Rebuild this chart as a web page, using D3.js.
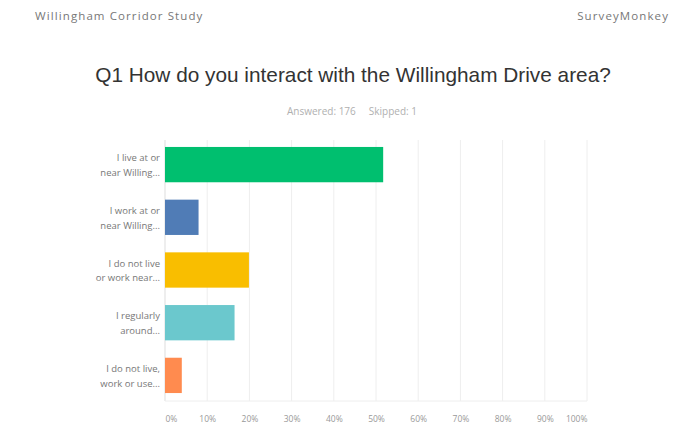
<!DOCTYPE html>
<html><head><meta charset="utf-8">
<script src="https://cdn.jsdelivr.net/npm/d3@7"></script>
<style>body{margin:0;background:#fff;}svg{display:block;font-family:"Open Sans","Liberation Sans",sans-serif;}</style>
</head><body><svg id="c" width="673" height="428"></svg>
<script>
const categories = [
  ["I live at or", "near Willing..."],
  ["I work at or", "near Willing..."],
  ["I do not live", "or work near..."],
  ["I regularly", "around..."],
  ["I do not live,", "work or use..."]
];
const values = [51.70, 7.95, 19.89, 16.48, 3.98];
const colors = ["#00bf6f", "#507cb6", "#f9be00", "#6bc8cd", "#ff8b4f"];
const tickValues = [0,10,20,30,40,50,60,70,80,90,100];
const tickLabels = ["0%","10%","20%","30%","40%","50%","60%","70%","80%","90%","100%"];

const svg = d3.select("#c");
const x = d3.scaleLinear().domain([0,100]).range([165, 587]);
const y = d3.scaleBand().domain(d3.range(categories.length)).range([138, 402]).paddingInner(0.33).paddingOuter(0.17);

svg.append("text").attr("x",35).attr("y",20).attr("font-size",11.5).attr("letter-spacing",1.1).attr("fill","#777").text("Willingham Corridor Study");
svg.append("text").attr("x",669).attr("y",20).attr("text-anchor","end").attr("font-size",11.5).attr("letter-spacing",1.1).attr("fill","#777").text("SurveyMonkey");
svg.append("text").attr("x",353).attr("y",82).attr("text-anchor","middle").attr("font-size",20.8).attr("fill","#333")
  .attr("font-family","Liberation Sans, Arial, sans-serif").text("Q1 How do you interact with the Willingham Drive area?");
svg.append("text").attr("x",352).attr("y",115).attr("text-anchor","middle").attr("font-size",10).attr("fill","#b0b0b0")
  .attr("xml:space","preserve").text("Answered: 176     Skipped: 1");

// gridlines
svg.append("g").selectAll("line").data(tickValues).join("line")
  .attr("x1",d=>x(d)).attr("x2",d=>x(d)).attr("y1",140).attr("y2",401)
  .attr("stroke",d=>d===0?"#ddd":"#eeeeee").attr("stroke-width",1);
svg.append("line").attr("x1",x(0)).attr("x2",x(100)).attr("y1",401).attr("y2",401).attr("stroke","#eee");

// bars
svg.append("g").selectAll("rect").data(values).join("rect")
  .attr("x",x(0)).attr("y",(d,i)=>y(i)).attr("width",d=>x(d)-x(0)).attr("height",y.bandwidth())
  .attr("fill",(d,i)=>colors[i]);

// category labels
const lab = svg.append("g").selectAll("text").data(categories).join("text")
  .attr("x",160).attr("text-anchor","end").attr("font-size",9.5).attr("fill","#777")
  .attr("y",(d,i)=>y(i)+y.bandwidth()/2);
lab.each(function(d){
  const t = d3.select(this);
  d.forEach((line,k)=>t.append("tspan").attr("x",160).attr("dy",k===0?"-0.35em":"1.55em").text(line));
});

// x axis
const ax = d3.axisBottom(x).tickValues(tickValues).tickFormat((d,i)=>tickLabels[i]).tickSize(0).tickPadding(0);
const g = svg.append("g").attr("transform","translate(0,416)").call(ax);
g.select(".domain").remove();
g.selectAll("text").attr("font-size",8.5).attr("fill","#999").attr("font-family","Open Sans, Liberation Sans, sans-serif")
  .attr("text-anchor",d=>d===0?"start":(d===100?"end":"middle"));
</script></body></html>
